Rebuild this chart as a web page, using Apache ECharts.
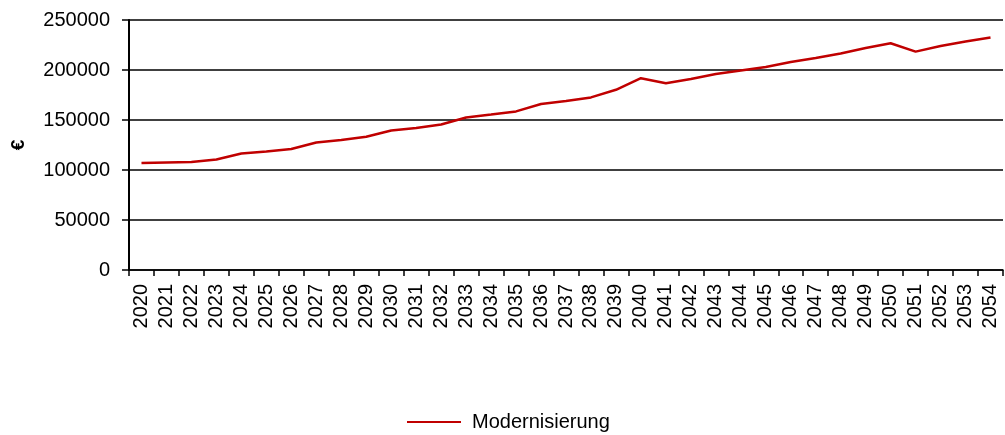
<!DOCTYPE html>
<html><head><meta charset="utf-8">
<script src="https://cdn.jsdelivr.net/npm/echarts@6/dist/echarts.min.js"></script>
<style>html,body{margin:0;padding:0;background:#fff}#c{width:1005px;height:435px}</style>
</head><body><div id="c"></div>
<script>
var years = ['2020','2021','2022','2023','2024','2025','2026','2027','2028','2029','2030','2031','2032','2033','2034','2035','2036','2037','2038','2039','2040','2041','2042','2043','2044','2045','2046','2047','2048','2049','2050','2051','2052','2053','2054'];
var modernisierung = [107000,107500,108000,110500,116500,118500,121000,127500,130000,133200,139500,142000,145500,152500,155500,158600,166000,169000,172600,180200,191800,186800,191000,196000,199500,203000,208000,212000,216500,222000,226800,218400,224000,228500,232400];
var yTicks = [0,50000,100000,150000,200000,250000];
var seriesName = 'Modernisierung';
var FONT = 'Liberation Sans, Arial, sans-serif';

var chart = echarts.init(document.getElementById('c'), null, {renderer:'canvas'});
chart.setOption({
  animation:false,
  backgroundColor:'#fff',
  textStyle:{fontFamily:FONT},
  grid:{left:129,right:2,top:20,bottom:165,containLabel:false,outerBoundsMode:'none'},
  legend:{
    top:407,left:402,
    data:[{name:seriesName,icon:'rect'}],
    itemWidth:54,itemHeight:2,itemGap:10,
    textStyle:{fontSize:20,color:'#000',fontFamily:FONT,padding:[0,0,0,6]}
  },
  xAxis:{
    type:'category',data:years,boundaryGap:true,
    axisLine:{lineStyle:{color:'#000',width:1.5}},
    axisTick:{show:true,alignWithLabel:false,length:6,lineStyle:{color:'#000',width:1.5}},
    axisLabel:{rotate:90,interval:0,fontSize:20,color:'#000',margin:14,fontFamily:FONT}
  },
  yAxis:{
    type:'value',min:yTicks[0],max:yTicks[yTicks.length-1],interval:50000,
    name:'€',nameLocation:'middle',nameGap:101,nameRotate:90,
    nameTextStyle:{fontSize:19,fontWeight:'bold',color:'#000',fontFamily:FONT},
    axisLine:{show:true,lineStyle:{color:'#000',width:2}},
    axisTick:{show:true,length:7,lineStyle:{color:'#000',width:1.5}},
    axisLabel:{fontSize:20,color:'#000',margin:19,fontFamily:FONT,formatter:function(v){return String(v);}},
    splitLine:{show:true,lineStyle:{color:'#000',width:1.5}}
  },
  series:[{
    name:seriesName,type:'line',data:modernisierung,
    showSymbol:false,symbol:'none',
    lineStyle:{color:'#c00000',width:2.5},
    itemStyle:{color:'#c00000'}
  }]
});
</script></body></html>
